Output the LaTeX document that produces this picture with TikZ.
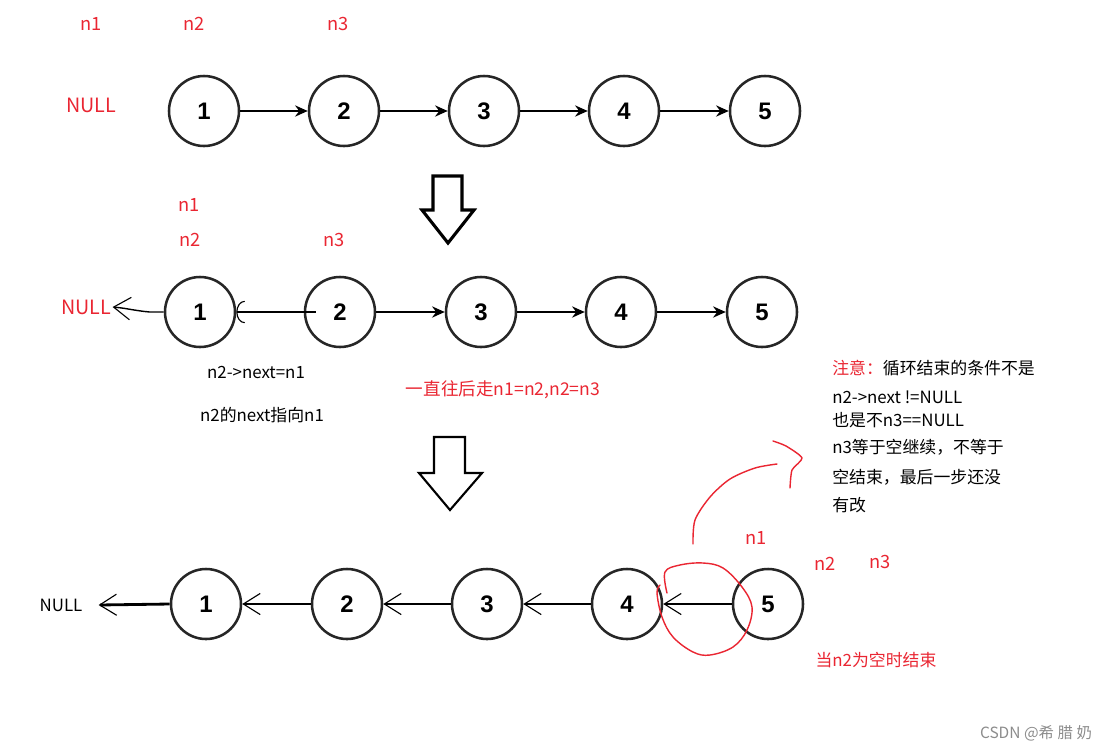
\documentclass[tikz,border=0pt]{standalone}
\usepackage{fontspec}
\setmainfont{Noto Sans CJK SC}
\newfontfamily\numfont{Liberation Sans}
\usetikzlibrary{arrows.meta}
\definecolor{notered}{RGB}{234,38,50}
\definecolor{markgray}{RGB}{140,140,140}

\begin{document}
\begin{tikzpicture}[x=0.025cm, y=-0.025cm,
  item/.style={circle, draw=black!85, line width=1.8pt, minimum size=1.75cm, inner sep=0pt,
               font=\numfont\bfseries\fontsize{17}{17}\selectfont},
  ptr/.style={text=notered, font=\fontsize{13}{13}\selectfont},
  link/.style={line width=1.4pt, -{Stealth[length=9pt,width=8pt]}},
  handlink/.style={line width=2pt, -{Straight Barb[length=12pt,width=15pt,line width=0.8pt]}},
  memo/.style={anchor=west, inner sep=0pt, font=\fontsize{12}{12}\selectfont},
  hand/.style={notered, line width=1pt, line cap=round, line join=round},
  bigarrow/.style={draw, line join=miter, fill=white}]
\useasboundingbox [fill=white] (0,0) rectangle (1111,752);

% first row
\node [ptr] (a1p) at (91,24) {n1};
\node [ptr] (a2p) at (194,24) {n2};
\node [ptr] (a3p) at (338,24) {n3};
\node [ptr, font=\fontsize{14}{14}\selectfont] (anull) at (91,105) {NULL};
\foreach \i/\x in {1/204,2/344,3/484,4/624,5/765}
    \node [item] (a\i) at (\x,111) {\i};
\foreach \i in {1,...,4}
{
    \pgfmathtruncatemacro{\next}{\i + 1}
    \draw [link] (a\i) -- (a\next);
}

\draw [bigarrow, line width=2.2pt] (433,176) -- (462,176) -- (462,210) -- (474,210)
    -- (448,243) -- (422,210) -- (433,210) -- cycle;

% second row
\node [ptr] (b1p) at (189,205) {n1};
\node [ptr] (b2p) at (190,240) {n2};
\node [ptr] (b3p) at (334,240) {n3};
\node [ptr, font=\fontsize{14}{14}\selectfont, inner sep=1pt] (bnull) at (86,307) {NULL};
\foreach \i/\x in {1/200,2/340,3/481,4/621,5/762}
    \node [item] (b\i) at (\x,312) {\i};
\foreach \i in {2,...,4}
{
    \pgfmathtruncatemacro{\next}{\i + 1}
    \draw [link] (b\i) -- (b\next);
}
\draw [line width=2pt, -{Arc Barb[length=6pt,width=16pt,line width=0.8pt]}]
    ([xshift=0.3cm]b2.west) -- (b1.east);
\draw [line width=1pt, -{Straight Barb[length=12pt,width=16pt,line width=0.8pt]}]
    (b1.west) -- ++(-14,0) to [out=175,in=-5] (bnull.east);

\node [memo, anchor=center] (bset) at (256,372) {n2->next=n1};
\node [memo, anchor=center] (bsay) at (262,415) {n2的next指向n1};
\node [memo, anchor=center, text=notered, font=\fontsize{12.5}{12.5}\selectfont] (bmove) at (503,390) {一直往后走n1=n2,n2=n3};

% note on the right
\node [memo] (note1) at (832,368) {\textcolor{notered}{注意：}循环结束的条件不是};
\node [memo] (note2) at (832,397) {n2->next !=NULL};
\node [memo] (note3) at (832,420) {也是不n3==NULL};
\node [memo] (note4) at (832,447) {n3等于空继续，不等于};
\node [memo] (note5) at (832,477) {空结束，最后一步还没};
\node [memo] (note6) at (832,505) {有改};

\draw [bigarrow, line width=1.5pt] (434,437) -- (465,437) -- (465,473) -- (482,473)
    -- (450,510) -- (419,473) -- (434,473) -- cycle;

% third row
\node [font=\fontsize{12}{12}\selectfont, inner xsep=0.4cm] (cnull) at (61,605) {NULL};
\foreach \i/\x in {1/206,2/347,3/487,4/627,5/768}
    \node [item] (c\i) at (\x,604) {\i};
\draw [handlink] (c1.west) -- (cnull.east);
\foreach \i in {1,...,4}
{
    \pgfmathtruncatemacro{\next}{\i + 1}
    \draw [handlink] (c\next.west) -- (c\i.east);
}
\node [ptr] (c1p) at (756,538) {n1};
\node [ptr] (c2p) at (825,564) {n2};
\node [ptr] (c3p) at (880,562) {n3};
\node [memo, anchor=center, text=notered] (cend) at (876,660) {当n2为空时结束};

% red marks by hand
\draw [hand] plot [smooth, tension=0.6] coordinates {(667,593) (665,572) (680,565) (703,563) (723,568)
    (742,587) (752,607) (747,630) (733,647) (710,655) (693,652) (673,637) (662,617) (657,593) (660,585)};
\draw [hand] plot [smooth] coordinates {(693,544) (695,520) (710,497) (730,479) (755,468) (777,464)};
\draw [hand] plot [smooth, tension=0.4] coordinates {(773,441) (786,446) (802,458) (792,470) (790,488)};

\node [text=markgray, font=\fontsize{11}{11}\selectfont] (mark) at (1036,733) {CSDN @希 腊 奶};
\end{tikzpicture}
\end{document}
